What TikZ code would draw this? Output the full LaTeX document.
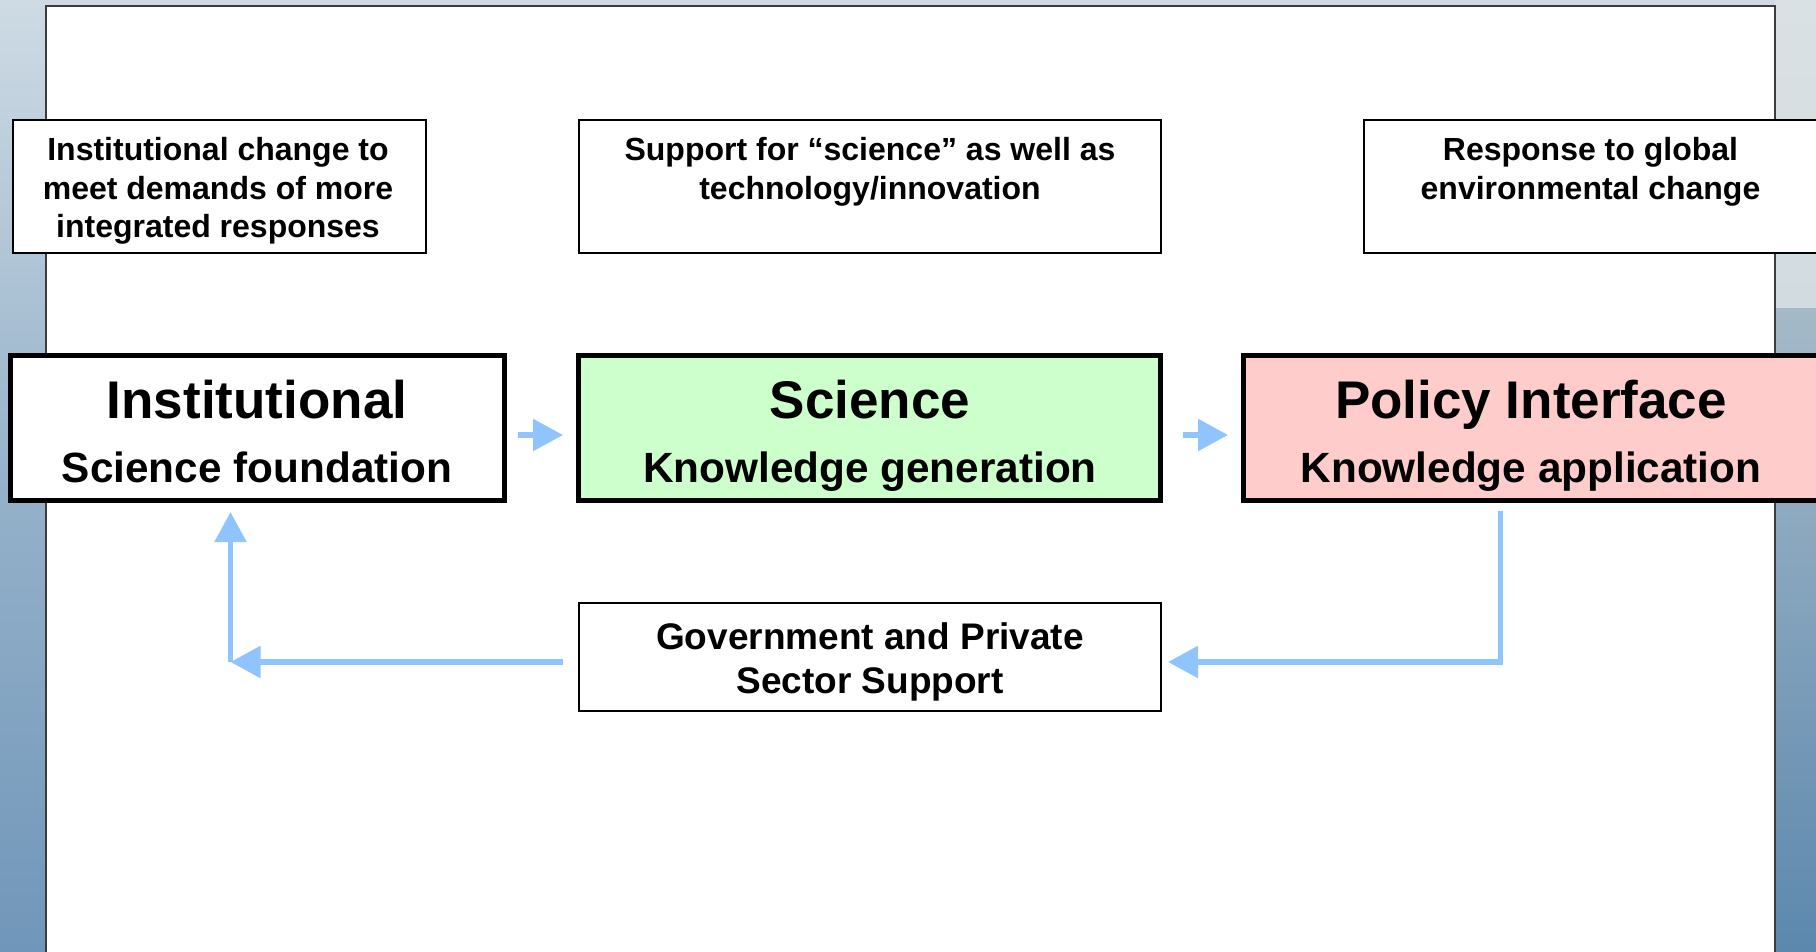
\documentclass[tikz,border=0pt]{standalone}
\usepackage{fontspec}
\setmainfont{Liberation Sans}
\usetikzlibrary{arrows.meta,calc}
\definecolor{arrowblue}{RGB}{143,196,255}
\definecolor{sciencegreen}{RGB}{204,255,204}
\definecolor{policypink}{RGB}{255,204,204}
\definecolor{bgtop}{RGB}{206,219,228}
\definecolor{bgmid}{RGB}{150,178,202}
\definecolor{bgbot}{RGB}{112,150,185}
\definecolor{rtop}{RGB}{218,225,228}
\definecolor{rmid}{RGB}{165,185,200}
\definecolor{rbot}{RGB}{92,136,174}
\definecolor{panelgray}{RGB}{60,60,60}
\begin{document}
\begin{tikzpicture}[x=1pt,y=-1pt,
  thinbox/.style={draw=black,line width=2pt,fill=white,inner sep=0pt},
  bigbox/.style={draw=black,line width=5pt,inner sep=0pt},
  smalltext/.style={font=\bfseries\fontsize{32}{38}\selectfont,anchor=base,inner sep=0pt},
  titletext/.style={font=\bfseries\fontsize{53}{60}\selectfont,anchor=base,inner sep=0pt},
  subtext/.style={font=\bfseries\fontsize{42.3}{50}\selectfont,anchor=base,inner sep=0pt},
  govtext/.style={font=\bfseries\fontsize{37}{44}\selectfont,anchor=base,inner sep=0pt},
  flow/.style={draw=arrowblue,line width=5.5pt,-{Triangle[length=30pt,width=31pt]}},
]
\useasboundingbox (0,0) rectangle (1816,952);
\clip (0,0) rectangle (1816,952);

% background
\shade[top color=bgtop,bottom color=bgbot,middle color=bgmid] (0,0) rectangle (1816,952);
\shade[top color=rtop,bottom color=rtop!85!rmid] (1775,0) rectangle (1816,308);
\shade[top color=rmid,bottom color=rbot] (1775,308) rectangle (1816,952);

% white panel
\draw[draw=panelgray,line width=1.5pt,fill=white] (46,6) rectangle (1775,970);

% top boxes
\node[thinbox,minimum width=413pt,minimum height=133pt] (tl) at (219.3,186.5) {};
\node[thinbox,minimum width=582pt,minimum height=133pt] (tm) at (870,186.5) {};
\node[thinbox,minimum width=453pt,minimum height=133pt] (tr) at (1590.5,186.5) {};

\node[smalltext] (tl1) at (218,161) {Institutional change to};
\node[smalltext] (tl2) at (218,199.4) {meet demands of more};
\node[smalltext] (tl3) at (218,237.8) {integrated responses};

\node[smalltext] (tm1) at (870,161) {Support for “science” as well as};
\node[smalltext] (tm2) at (870,199.4) {technology/innovation};

\node[smalltext] (tr1) at (1590.5,161) {Response to global};
\node[smalltext] (tr2) at (1590.5,199.4) {environmental change};

% main boxes
\node[bigbox,fill=white,minimum width=494pt,minimum height=145pt] (inst) at (257.5,428) {};
\node[bigbox,fill=sciencegreen,minimum width=582pt,minimum height=145pt] (sci) at (869.5,428) {};
\node[bigbox,fill=policypink,minimum width=575pt,minimum height=145pt] (pol) at (1531,428) {};

\node[titletext] (instT) at (257,418.5) {Institutional};
\node[subtext] (instS) at (257,482) {Science foundation};
\node[titletext] (sciT) at (870,418.5) {Science};
\node[subtext] (sciS) at (870,482) {Knowledge generation};
\node[titletext] (polT) at (1531,418.5) {Policy Interface};
\node[subtext] (polS) at (1531,482) {Knowledge application};

% bottom box
\node[thinbox,minimum width=582pt,minimum height=108pt] (gov) at (870,657) {};
\node[govtext] (gov1) at (870,649) {Government and Private};
\node[govtext] (gov2) at (870,693) {Sector Support};

% connectors
\draw[flow] ($(inst.east)+(11,7)$) -- ($(sci.west)+(-13,7)$);
\draw[flow] ($(sci.east)+(20,7)$) -- ($(pol.west)+(-13,7)$);

\coordinate (c1) at (230.5,662);
\coordinate (c2) at (1500.5,662);
\draw[flow] ($(gov.west)+(-15,5)$) -- (c1);
\draw[flow] (c1) -- ($(c1 |- inst.south)+(0,9)$);
\draw[flow] ($(c2 |- pol.south)+(0,8)$) -- (c2) -- ($(gov.east)+(6,5)$);
\end{tikzpicture}
\end{document}
